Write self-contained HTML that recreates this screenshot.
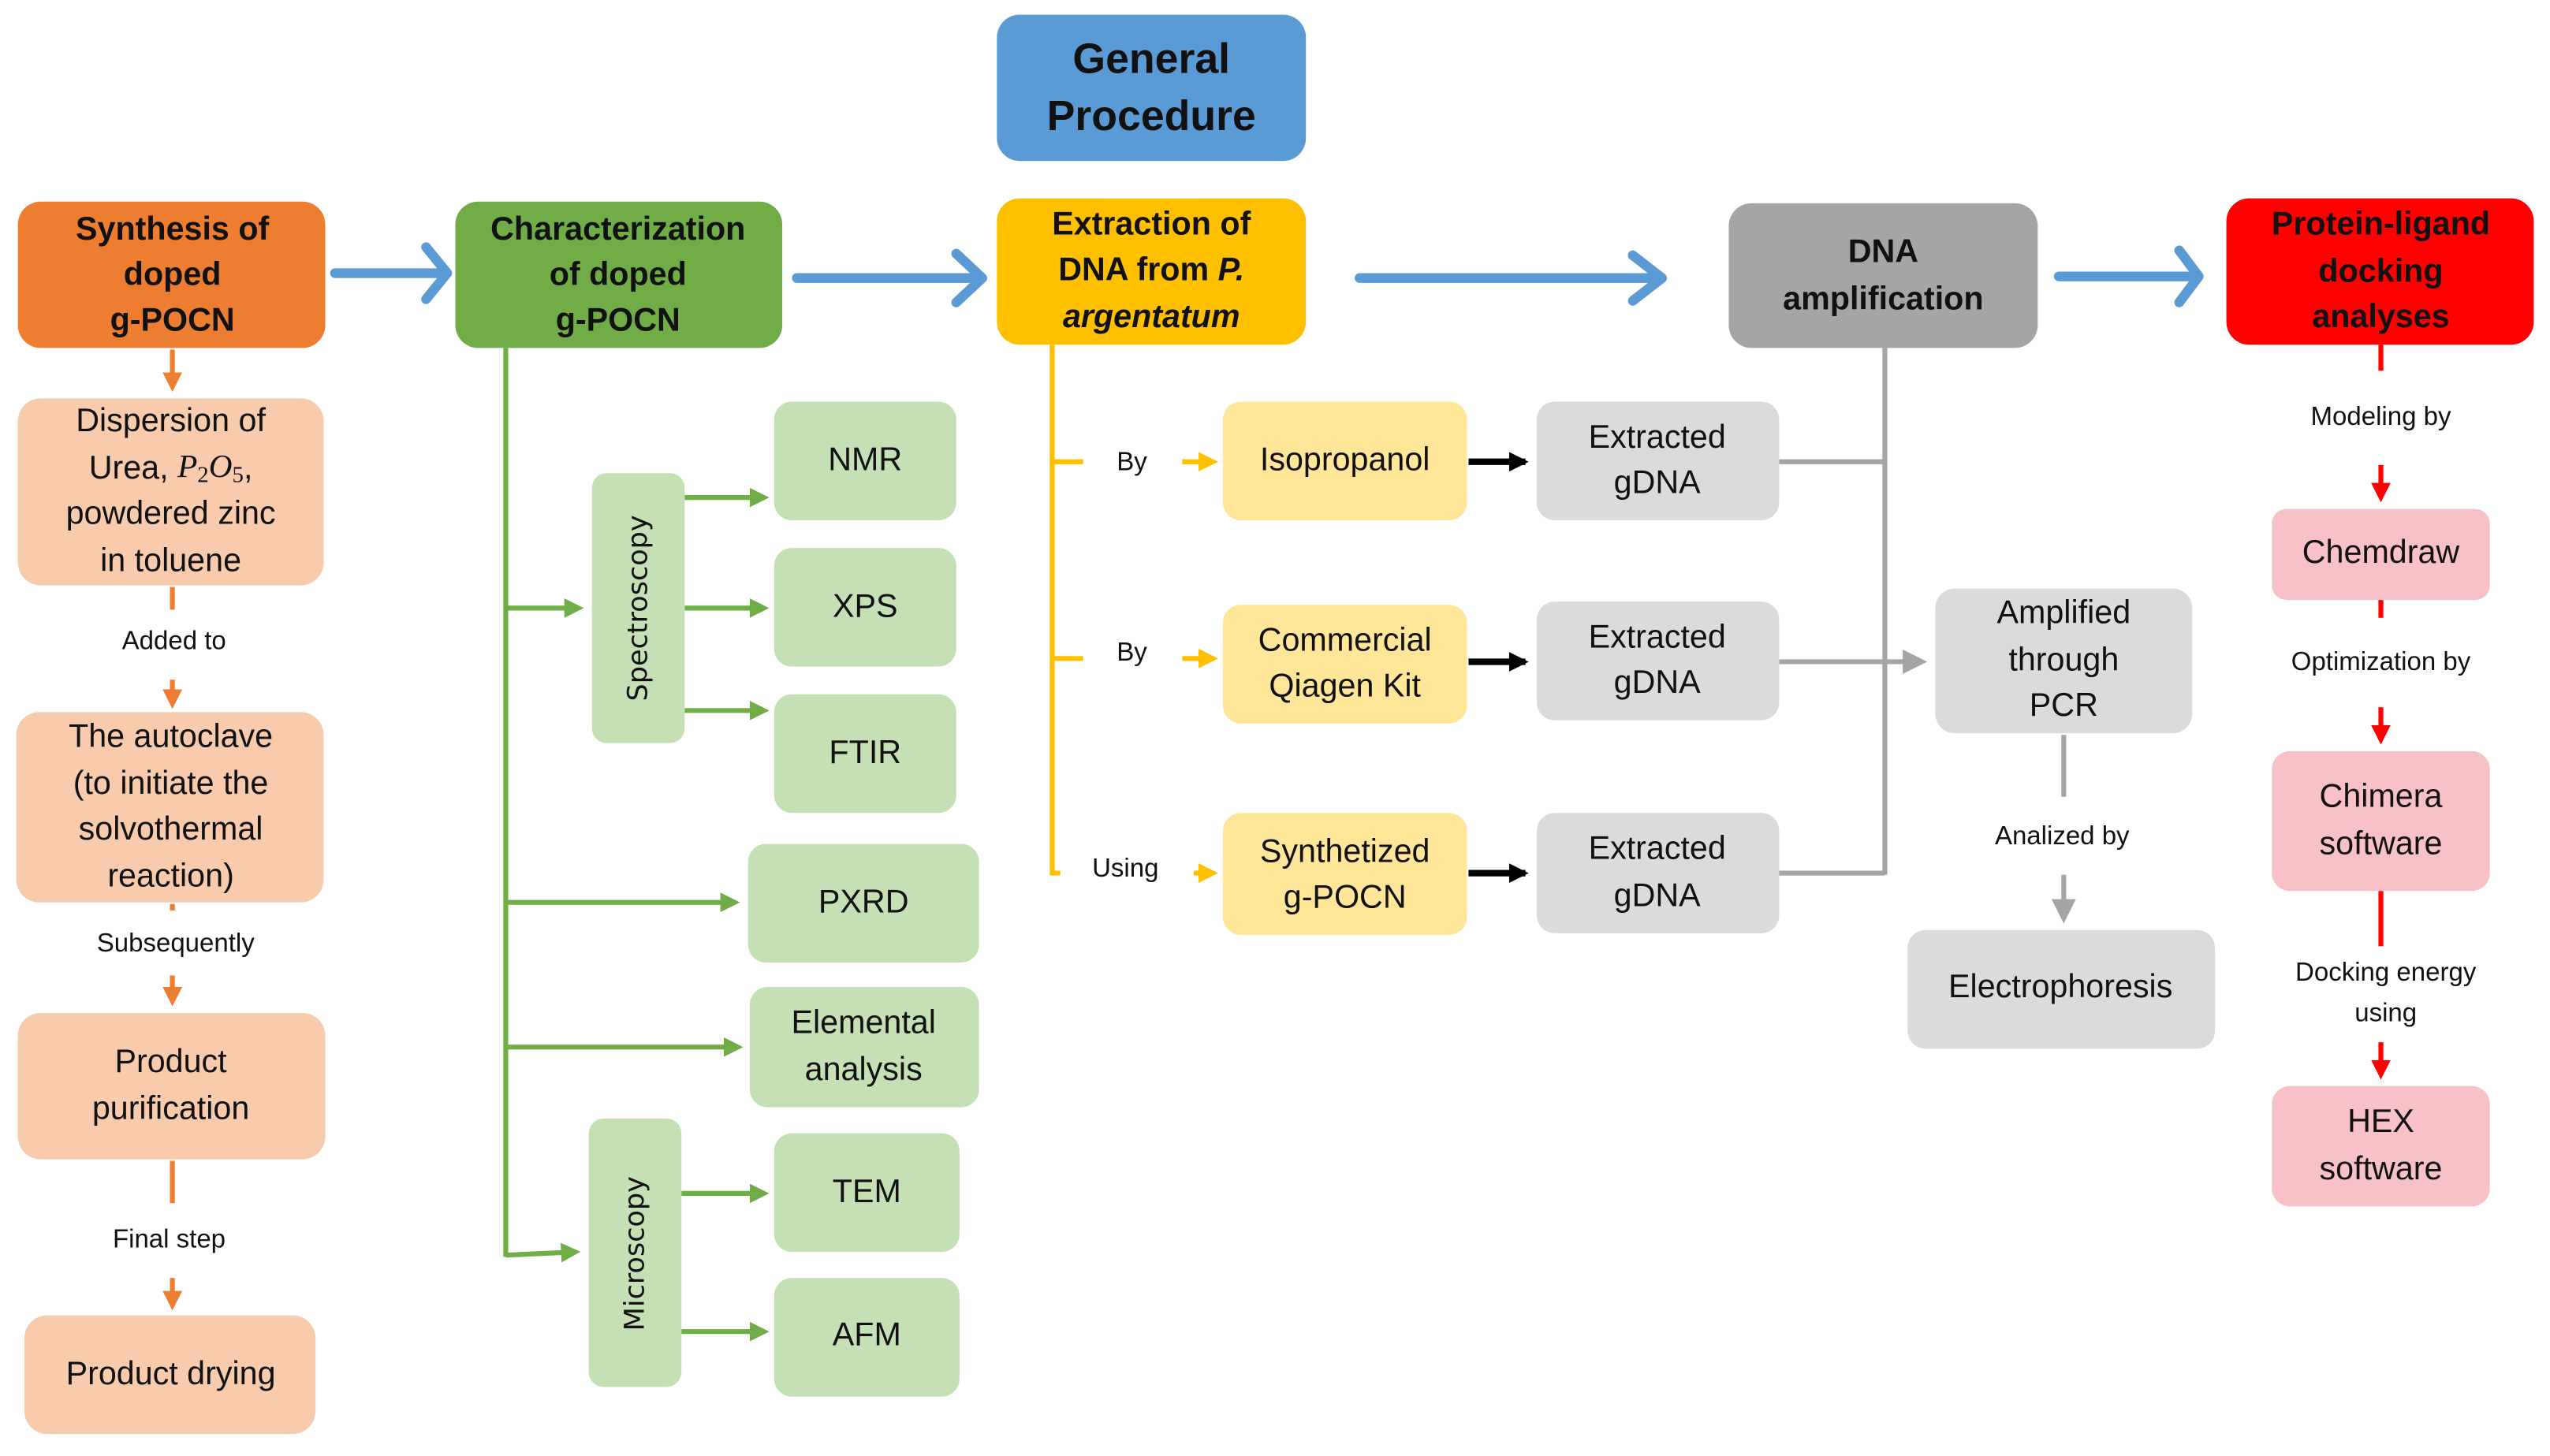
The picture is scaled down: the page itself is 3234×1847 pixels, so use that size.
<!DOCTYPE html>
<html><head><meta charset="utf-8"><style>
html,body{margin:0;padding:0;background:#fff}
svg{display:block}
text{font-family:"Liberation Sans Narrow","Liberation Sans",sans-serif;text-anchor:middle;dominant-baseline:middle;fill:#111}
.b{font-weight:bold}
</style></head><body>
<svg width="3234" height="1847" viewBox="0 0 1568 895.5" xmlns="http://www.w3.org/2000/svg">
<defs>
<marker id="ao" markerWidth="4" markerHeight="4" refX="3" refY="2" orient="auto" markerUnits="strokeWidth"><path d="M0,0L4,2L0,4z" fill="#ED7D31"/></marker>
<marker id="ag" markerWidth="4" markerHeight="4" refX="3" refY="2" orient="auto" markerUnits="strokeWidth"><path d="M0,0L4,2L0,4z" fill="#70AD47"/></marker>
<marker id="ay" markerWidth="4" markerHeight="4" refX="3" refY="2" orient="auto" markerUnits="strokeWidth"><path d="M0,0L4,2L0,4z" fill="#FFC000"/></marker>
<marker id="ak" markerWidth="3" markerHeight="3" refX="2.5" refY="1.5" orient="auto" markerUnits="strokeWidth"><path d="M0,0L3,1.5L0,3z" fill="#000"/></marker>
<marker id="ar" markerWidth="4" markerHeight="4" refX="3" refY="2" orient="auto" markerUnits="strokeWidth"><path d="M0,0L4,2L0,4z" fill="#FF0000"/></marker>
<marker id="aa" markerWidth="5" markerHeight="5" refX="4" refY="2.5" orient="auto" markerUnits="strokeWidth"><path d="M0,0L5,2.5L0,5z" fill="#A5A5A5"/></marker>
</defs>

<!-- blue arrows -->
<g stroke="#5B9BD5" stroke-width="6" fill="none" stroke-linecap="round" stroke-linejoin="round">
<path d="M206,168H275M262,152L275,168L262,184"/>
<path d="M490,171H604M588,156L604,171L588,186"/>
<path d="M836,171H1022M1004,157L1022,171L1004,185"/>
<path d="M1266,170H1352M1340,154L1352,170L1340,186"/>
</g>

<!-- top boxes -->
<rect x="613" y="9" width="190" height="90" rx="14" fill="#5B9BD5"/>
<text x="708" y="38" class="b" font-size="26">General</text>
<text x="708" y="73" class="b" font-size="26">Procedure</text>

<rect x="11" y="124" width="189" height="90" rx="14" fill="#ED7D31"/>
<text x="106" y="142" class="b" font-size="20">Synthesis of</text>
<text x="106" y="170" class="b" font-size="20">doped</text>
<text x="106" y="198" class="b" font-size="20">g-POCN</text>

<rect x="280" y="124" width="201" height="90" rx="14" fill="#70AD47"/>
<text x="380" y="142" class="b" font-size="20">Characterization</text>
<text x="380" y="170" class="b" font-size="20">of doped</text>
<text x="380" y="198" class="b" font-size="20">g-POCN</text>

<rect x="613" y="122" width="190" height="90" rx="14" fill="#FFC000"/>
<text x="708" y="139" class="b" font-size="20">Extraction of</text>
<text x="708" y="167" class="b" font-size="20">DNA from <tspan font-style="italic">P.</tspan></text>
<text x="708" y="196" class="b" font-size="20" font-style="italic">argentatum</text>

<rect x="1063" y="125" width="190" height="89" rx="14" fill="#A5A5A5"/>
<text x="1158" y="156" class="b" font-size="20">DNA</text>
<text x="1158" y="185" class="b" font-size="20">amplification</text>

<rect x="1369" y="122" width="189" height="90" rx="14" fill="#FF0000"/>
<text x="1464" y="139" class="b" font-size="20">Protein-ligand</text>
<text x="1464" y="168" class="b" font-size="20">docking</text>
<text x="1464" y="196" class="b" font-size="20">analyses</text>

<!-- left orange column -->
<g stroke="#ED7D31" stroke-width="3" fill="none">
<line x1="106" y1="215" x2="106" y2="238" marker-end="url(#ao)"/>
<line x1="106" y1="361" x2="106" y2="375"/>
<line x1="106" y1="418" x2="106" y2="433" marker-end="url(#ao)"/>
<line x1="106" y1="556" x2="106" y2="560"/>
<line x1="106" y1="600" x2="106" y2="616" marker-end="url(#ao)"/>
<line x1="106" y1="714" x2="106" y2="740"/>
<line x1="106" y1="786" x2="106" y2="803" marker-end="url(#ao)"/>
</g>
<g fill="#F8CBAD">
<rect x="11" y="245" width="188" height="115" rx="14"/>
<rect x="10" y="438" width="189" height="117" rx="14"/>
<rect x="11" y="623" width="189" height="90" rx="14"/>
<rect x="15" y="809" width="179" height="73" rx="14"/>
</g>
<g font-size="20">
<text x="105" y="260">Dispersion of</text>
<text x="105" y="289">Urea, <tspan font-family="Liberation Serif" font-style="italic">P</tspan><tspan font-family="Liberation Serif" font-size="14" dy="4">2</tspan><tspan font-family="Liberation Serif" font-style="italic" dy="-4">O</tspan><tspan font-family="Liberation Serif" font-size="14" dy="4">5</tspan><tspan dy="-4">,</tspan></text>
<text x="105" y="317">powdered zinc</text>
<text x="105" y="346">in toluene</text>
<text x="105" y="454">The autoclave</text>
<text x="105" y="483">(to initiate the</text>
<text x="105" y="511">solvothermal</text>
<text x="105" y="540">reaction)</text>
<text x="105" y="654">Product</text>
<text x="105" y="683">purification</text>
<text x="105" y="846">Product drying</text>
</g>
<g font-size="16">
<text x="107" y="395">Added to</text>
<text x="108" y="581">Subsequently</text>
<text x="104" y="763">Final step</text>
</g>

<!-- green column -->
<g stroke="#70AD47" stroke-width="3" fill="none">
<line x1="311" y1="214" x2="311" y2="773"/>
<line x1="311" y1="374" x2="356" y2="374" marker-end="url(#ag)"/>
<line x1="311" y1="555" x2="452" y2="555" marker-end="url(#ag)"/>
<line x1="311" y1="644" x2="454" y2="644" marker-end="url(#ag)"/>
<line x1="311" y1="772" x2="354" y2="770" marker-end="url(#ag)"/>
<line x1="421" y1="306" x2="470" y2="306" marker-end="url(#ag)"/>
<line x1="421" y1="374" x2="470" y2="374" marker-end="url(#ag)"/>
<line x1="421" y1="437" x2="470" y2="437" marker-end="url(#ag)"/>
<line x1="419" y1="734" x2="470" y2="734" marker-end="url(#ag)"/>
<line x1="419" y1="819" x2="470" y2="819" marker-end="url(#ag)"/>
</g>
<g fill="#C5E0B4">
<rect x="364" y="291" width="57" height="166" rx="9"/>
<rect x="476" y="247" width="112" height="73" rx="11"/>
<rect x="476" y="337" width="112" height="73" rx="11"/>
<rect x="476" y="427" width="112" height="73" rx="11"/>
<rect x="460" y="519" width="142" height="73" rx="11"/>
<rect x="461" y="607" width="141" height="74" rx="11"/>
<rect x="362" y="688" width="57" height="165" rx="9"/>
<rect x="476" y="697" width="114" height="73" rx="11"/>
<rect x="476" y="786" width="114" height="73" rx="11"/>
</g>
<g font-size="20">
<text x="532" y="284">NMR</text>
<text x="532" y="374">XPS</text>
<text x="532" y="464">FTIR</text>
<text x="531" y="556">PXRD</text>
<text x="531" y="630">Elemental</text>
<text x="531" y="659">analysis</text>
<text x="533" y="734">TEM</text>
<text x="533" y="822">AFM</text>
<text x="393" y="374" transform="rotate(-90 393 374)" style="font-family:'DejaVu Sans',sans-serif" font-size="17">Spectroscopy</text>
<text x="391" y="771" transform="rotate(-90 391 771)" style="font-family:'DejaVu Sans',sans-serif" font-size="17">Microscopy</text>
</g>

<!-- yellow column -->
<g stroke="#FFC000" stroke-width="3" fill="none">
<polyline points="647,212 647,537 652,537"/>
<line x1="647" y1="284" x2="666" y2="284"/>
<line x1="647" y1="405" x2="666" y2="405"/>
<line x1="727" y1="284" x2="746" y2="284" marker-end="url(#ay)"/>
<line x1="727" y1="405" x2="746" y2="405" marker-end="url(#ay)"/>
<line x1="734" y1="537" x2="746" y2="537" marker-end="url(#ay)"/>
</g>
<g font-size="16">
<text x="696" y="285">By</text>
<text x="696" y="402">By</text>
<text x="692" y="535">Using</text>
</g>
<g fill="#FFE699">
<rect x="752" y="247" width="150" height="73" rx="11"/>
<rect x="752" y="372" width="150" height="73" rx="11"/>
<rect x="752" y="500" width="150" height="75" rx="11"/>
</g>
<g font-size="20">
<text x="827" y="284">Isopropanol</text>
<text x="827" y="395">Commercial</text>
<text x="827" y="423">Qiagen Kit</text>
<text x="827" y="525">Synthetized</text>
<text x="827" y="553">g-POCN</text>
</g>
<g stroke="#000" stroke-width="4" fill="none">
<line x1="903" y1="284" x2="938" y2="284" marker-end="url(#ak)"/>
<line x1="903" y1="407" x2="938" y2="407" marker-end="url(#ak)"/>
<line x1="903" y1="537" x2="938" y2="537" marker-end="url(#ak)"/>
</g>

<!-- gray -->
<g stroke="#A5A5A5" stroke-width="3" fill="none">
<line x1="1159" y1="214" x2="1159" y2="538"/>
<line x1="1094" y1="284" x2="1159" y2="284"/>
<line x1="1094" y1="537" x2="1159" y2="537"/>
<line x1="1094" y1="407" x2="1182" y2="407" marker-end="url(#aa)"/>
<line x1="1269" y1="452" x2="1269" y2="490"/>
<line x1="1269" y1="538" x2="1269" y2="565" marker-end="url(#aa)"/>
</g>
<g fill="#DBDBDB">
<rect x="945" y="247" width="149" height="73" rx="11"/>
<rect x="945" y="370" width="149" height="73" rx="11"/>
<rect x="945" y="500" width="149" height="74" rx="11"/>
<rect x="1190" y="362" width="158" height="89" rx="12"/>
<rect x="1173" y="572" width="189" height="73" rx="11"/>
</g>
<g font-size="20">
<text x="1019" y="270">Extracted</text><text x="1019" y="298">gDNA</text>
<text x="1019" y="393">Extracted</text><text x="1019" y="421">gDNA</text>
<text x="1019" y="523">Extracted</text><text x="1019" y="552">gDNA</text>
<text x="1269" y="378">Amplified</text>
<text x="1269" y="407">through</text>
<text x="1269" y="435">PCR</text>
<text x="1267" y="608">Electrophoresis</text>
</g>
<text x="1268" y="515" font-size="16">Analized by</text>

<!-- red column -->
<g stroke="#FF0000" stroke-width="3" fill="none">
<line x1="1464" y1="212" x2="1464" y2="228"/>
<line x1="1464" y1="286" x2="1464" y2="306" marker-end="url(#ar)"/>
<line x1="1464" y1="369" x2="1464" y2="380"/>
<line x1="1464" y1="435" x2="1464" y2="455" marker-end="url(#ar)"/>
<line x1="1464" y1="548" x2="1464" y2="582"/>
<line x1="1464" y1="641" x2="1464" y2="661" marker-end="url(#ar)"/>
</g>
<g fill="#F8C1C8">
<rect x="1397" y="313" width="134" height="56" rx="9"/>
<rect x="1397" y="462" width="134" height="86" rx="11"/>
<rect x="1397" y="668" width="134" height="74" rx="11"/>
</g>
<g font-size="20">
<text x="1464" y="341">Chemdraw</text>
<text x="1464" y="491">Chimera</text>
<text x="1464" y="520">software</text>
<text x="1464" y="691">HEX</text>
<text x="1464" y="720">software</text>
</g>
<g font-size="16">
<text x="1464" y="257">Modeling by</text>
<text x="1464" y="408">Optimization by</text>
<text x="1467" y="599">Docking energy</text>
<text x="1467" y="624">using</text>
</g>
</svg>
</body></html>
